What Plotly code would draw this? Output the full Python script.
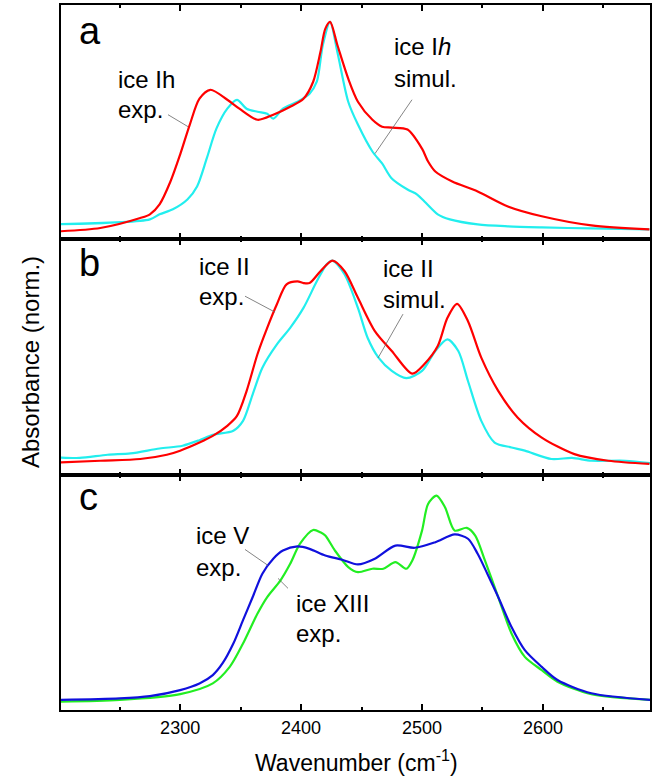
import plotly.graph_objects as go

# ---------------- data ----------------
# panel a : ice Ih
wn_a_exp = [2201, 2234, 2267, 2275, 2283, 2292, 2300, 2308, 2316, 2325, 2339, 2349, 2364, 2377,
            2391, 2402, 2410, 2416, 2420, 2424, 2430, 2439, 2447, 2459, 2467, 2475, 2488, 2500,
            2505, 2511, 2525, 2546, 2571, 2599, 2640, 2688]
ab_a_exp = [0.037, 0.052, 0.098, 0.115, 0.161, 0.266, 0.390, 0.528, 0.647, 0.688, 0.642, 0.601,
            0.550, 0.573, 0.610, 0.647, 0.725, 0.862, 0.968, 1.0, 0.894, 0.739, 0.633, 0.550,
            0.518, 0.514, 0.505, 0.417, 0.358, 0.312, 0.266, 0.220, 0.151, 0.106, 0.064, 0.046]
wn_a_sim = [2201, 2275, 2283, 2294, 2306, 2314, 2322, 2330, 2339, 2347, 2355, 2364, 2372, 2377,
            2385, 2397, 2407, 2413, 2418, 2424, 2430, 2439, 2447, 2459, 2467, 2475, 2488, 2496,
            2502, 2513, 2523, 2546, 2571, 2599, 2640, 2688]
ab_a_sim = [0.070, 0.092, 0.115, 0.138, 0.183, 0.243, 0.372, 0.509, 0.601, 0.642, 0.601, 0.587,
            0.578, 0.555, 0.601, 0.633, 0.670, 0.725, 0.894, 1.0, 0.862, 0.633, 0.528, 0.404,
            0.349, 0.280, 0.229, 0.206, 0.174, 0.115, 0.092, 0.069, 0.060, 0.055, 0.050, 0.046]

# panel b : ice II
wn_b_exp = [2201, 2234, 2267, 2289, 2300, 2316, 2327, 2339, 2347, 2355, 2364, 2372, 2380, 2388,
            2397, 2402, 2407, 2416, 2426, 2436, 2447, 2461, 2475, 2492, 2502, 2513, 2521, 2529,
            2538, 2549, 2563, 2579, 2599, 2626, 2654, 2688]
ab_b_exp = [0.057, 0.065, 0.073, 0.093, 0.112, 0.150, 0.181, 0.228, 0.274, 0.391, 0.563, 0.685,
            0.795, 0.888, 0.902, 0.894, 0.894, 0.949, 0.999, 0.949, 0.825, 0.670, 0.577, 0.471,
            0.516, 0.600, 0.732, 0.797, 0.716, 0.546, 0.391, 0.267, 0.173, 0.096, 0.065, 0.050]
wn_b_sim = [2201, 2217, 2240, 2259, 2283, 2302, 2316, 2327, 2344, 2352, 2360, 2368, 2380, 2391,
            2402, 2413, 2421, 2426, 2436, 2447, 2455, 2464, 2475, 2487, 2500, 2511, 2521, 2530,
            2538, 2549, 2560, 2574, 2585, 2607, 2624, 2640, 2668, 2689]
ab_b_sim = [0.080, 0.078, 0.093, 0.099, 0.122, 0.135, 0.161, 0.186, 0.205, 0.251, 0.375, 0.499,
            0.608, 0.685, 0.778, 0.902, 0.980, 0.999, 0.934, 0.778, 0.639, 0.546, 0.484, 0.450,
            0.484, 0.577, 0.631, 0.577, 0.437, 0.251, 0.150, 0.127, 0.112, 0.073, 0.078, 0.065,
            0.065, 0.053]

# panel c : ice V and ice XIII
wn_c_v = [2201, 2250, 2275, 2300, 2316, 2327, 2335, 2344, 2352, 2360, 2368, 2377, 2385, 2397,
          2407, 2420, 2434, 2447, 2461, 2478, 2494, 2511, 2527, 2538, 2546, 2554, 2563, 2574,
          2585, 2599, 2612, 2640, 2690]
ab_c_v = [0.047, 0.054, 0.065, 0.093, 0.124, 0.163, 0.217, 0.310, 0.419, 0.527, 0.636, 0.706,
          0.744, 0.763, 0.752, 0.721, 0.701, 0.679, 0.706, 0.767, 0.757, 0.783, 0.819, 0.799,
          0.729, 0.636, 0.527, 0.387, 0.279, 0.201, 0.140, 0.078, 0.047]
wn_c_xiii = [2201, 2250, 2300, 2327, 2341, 2352, 2364, 2372, 2383, 2391, 2399, 2410, 2416, 2420,
             2428, 2439, 2447, 2459, 2468, 2478, 2487, 2492, 2500, 2505, 2512, 2519, 2527, 2537,
             2544, 2552, 2563, 2574, 2585, 2599, 2612, 2640, 2690]
ab_c_xiii = [0.039, 0.047, 0.074, 0.124, 0.201, 0.310, 0.450, 0.527, 0.605, 0.682, 0.775, 0.840,
             0.829, 0.814, 0.744, 0.667, 0.643, 0.659, 0.659, 0.690, 0.659, 0.698, 0.837, 0.961,
             1.0, 0.946, 0.837, 0.850, 0.814, 0.698, 0.527, 0.357, 0.248, 0.186, 0.132, 0.074,
             0.047]

x_ticks = [2300, 2400, 2500, 2600]
x_range = [2201.5, 2688.5]

RED = "#ff0000"
CYAN = "#22eeee"
BLUE = "#1010dd"
GREEN = "#22ee22"
FONT = "Liberation Sans, Arial, sans-serif"

# ---------------- layout helpers ----------------
W, H = 655, 777
L, R, T, B = 61, 650, 3, 710
def px(x):
    return (x - L) / (R - L)
def py(y):
    return (B - y) / (B - T)

fig = go.Figure()

def add(x, y, color, axis):
    fig.add_trace(go.Scatter(x=x, y=y, mode="lines", xaxis="x" + axis, yaxis="y" + axis,
                             line=dict(color=color, width=2.2, shape="spline", smoothing=0.8),
                             showlegend=False, hoverinfo="skip"))

add(wn_a_sim, ab_a_sim, CYAN, "")
add(wn_a_exp, ab_a_exp, RED, "")
add(wn_b_sim, ab_b_sim, CYAN, "2")
add(wn_b_exp, ab_b_exp, RED, "2")
add(wn_c_xiii, ab_c_xiii, GREEN, "3")
add(wn_c_v, ab_c_v, BLUE, "3")

panel_px = [(3, 238, 1.078), (238, 474, 1.098), (474, 710, 1.098)]

def xaxis_cfg(anchor, show_labels):
    return dict(range=x_range, tickvals=x_ticks, ticks="inside", ticklen=6, tickwidth=1.5,
                tickcolor="black", showline=True, linecolor="black", linewidth=1.8,
                mirror="allticks", showgrid=False, zeroline=False, anchor=anchor,
                showticklabels=show_labels,
                tickfont=dict(family=FONT, size=18, color="black"),
                minor=dict(dtick=50, ticks="inside", ticklen=3, tickwidth=1.5, tickcolor="black"))

def yaxis_cfg(anchor, top, bot, rng):
    return dict(domain=[py(bot), py(top)], range=[0, rng], showticklabels=False, ticks="",
                showline=True, linecolor="black", linewidth=1.8, mirror=True, showgrid=False,
                zeroline=False, anchor=anchor, fixedrange=True)

layout = dict(width=W, height=H, margin=dict(l=L, r=W - R, t=T, b=H - B),
              paper_bgcolor="white", plot_bgcolor="white",
              xaxis=xaxis_cfg("y", False), xaxis2=xaxis_cfg("y2", False),
              xaxis3=xaxis_cfg("y3", True),
              yaxis=yaxis_cfg("x", *panel_px[0]),
              yaxis2=yaxis_cfg("x2", *panel_px[1]),
              yaxis3=yaxis_cfg("x3", *panel_px[2]))
fig.update_layout(**layout)

ann = []
def text(x, y, s, size=24, xanchor="left"):
    ann.append(dict(x=px(x), y=py(y), xref="paper", yref="paper", text=s, showarrow=False,
                    xanchor=xanchor, yanchor="middle",
                    font=dict(family=FONT, size=size, color="black")))

# panel letters
text(77, 29, "a", 38)
text(77, 262, "b", 38)
text(77, 496, "c", 38)
# labels
text(116, 78, "ice Ih")
text(116, 108, "exp.")
text(392, 45, "ice I<i>h</i>")
text(392, 77, "simul.")
text(197, 265, "ice II")
text(197, 295, "exp.")
text(381, 267, "ice II")
text(381, 298, "simul.")
text(194, 535, "ice V")
text(194, 567, "exp.")
text(294, 603, "ice XIII")
text(294, 633, "exp.")
# axis titles
ann.append(dict(x=px(31), y=py(361), xref="paper", yref="paper", text="Absorbance (norm.)",
                showarrow=False, textangle=-90, xanchor="center", yanchor="middle",
                font=dict(family=FONT, size=24, color="black")))
ann.append(dict(x=px(356), y=py(761), xref="paper", yref="paper",
                text="Wavenumber (cm<sup>-1</sup>)", showarrow=False,
                xanchor="center", yanchor="middle",
                font=dict(family=FONT, size=23, color="black")))
fig.update_layout(annotations=ann)

leaders = [((168, 113), (188, 125)), ((412, 98), (375, 152)),
           ((245, 295), (275, 311)), ((403, 313), (378, 357)),
           ((245, 549), (268, 565)), ((278, 578), (288, 588))]
for (x0, y0), (x1, y1) in leaders:
    fig.add_shape(type="line", xref="paper", yref="paper", x0=px(x0), y0=py(y0),
                  x1=px(x1), y1=py(y1), line=dict(color="#666666", width=0.8))

fig.write_html("out.html")
